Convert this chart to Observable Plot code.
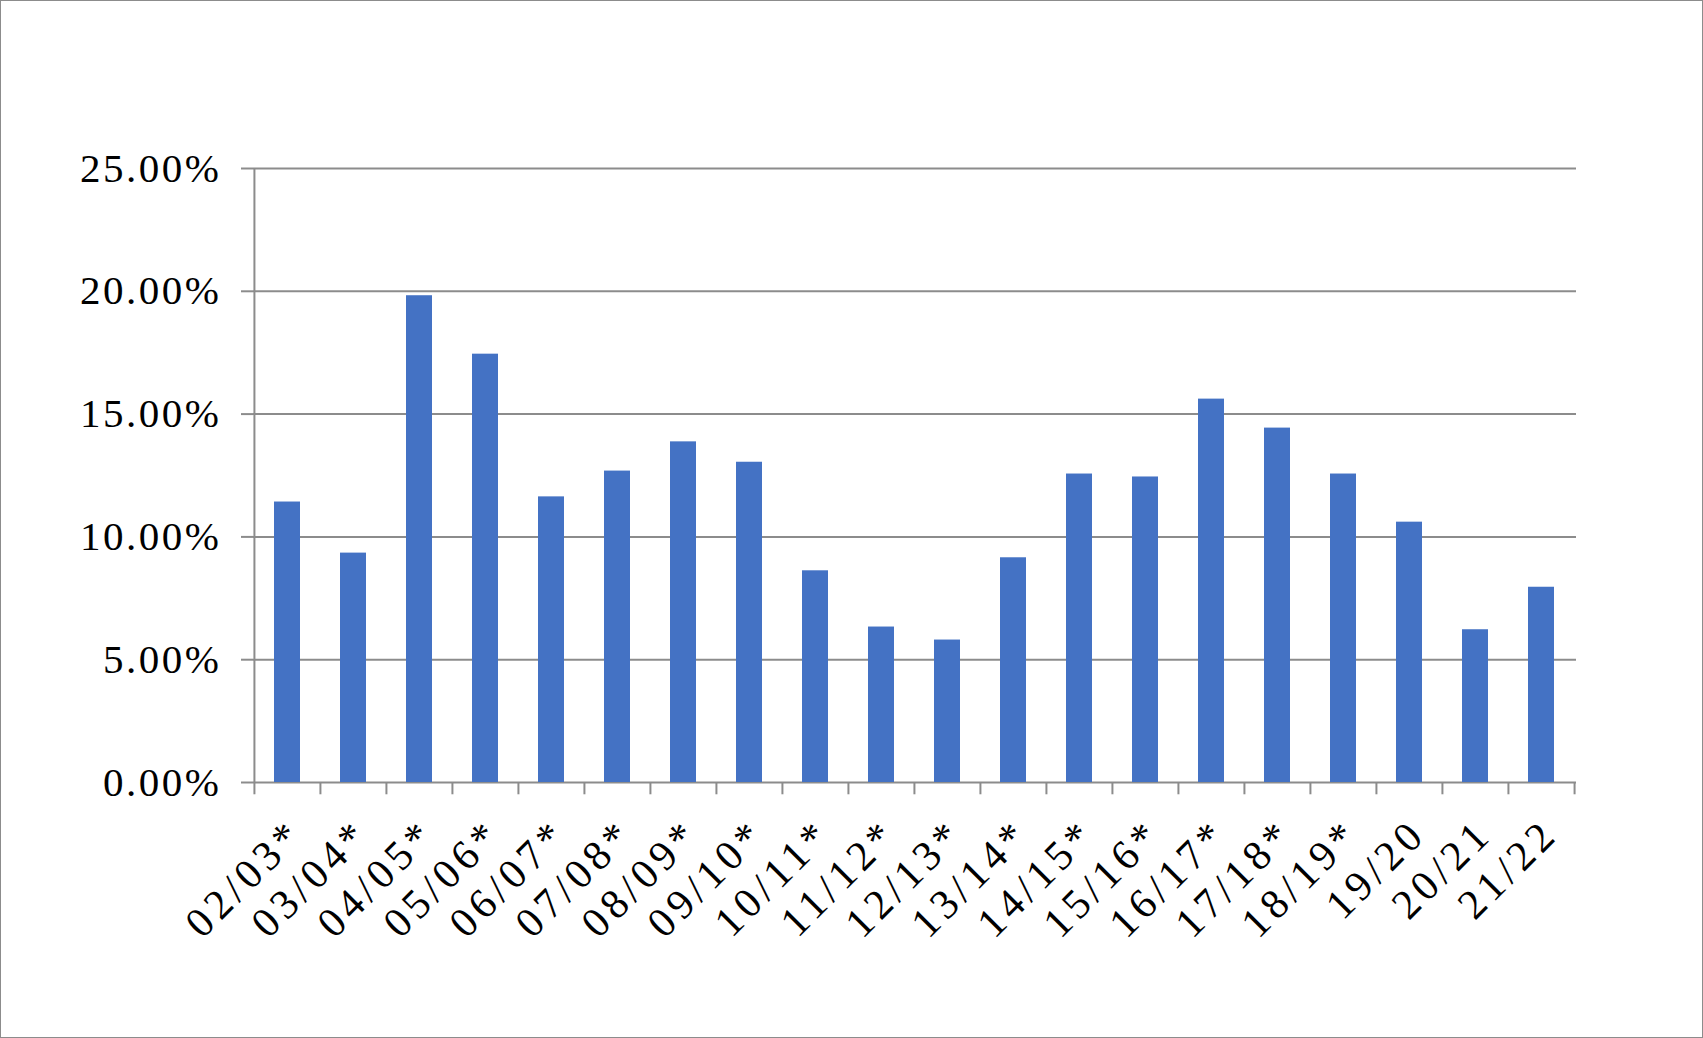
<!DOCTYPE html>
<html>
<head>
<meta charset="utf-8">
<script src="https://cdn.jsdelivr.net/npm/d3@7"></script>
<script src="https://cdn.jsdelivr.net/npm/@observablehq/plot@0.6"></script>
<style>
  html, body { margin: 0; padding: 0; background: #fff; }
  #chart { width: 1701px; height: 1036px; border: 1px solid #8c8c8c; overflow: hidden; }
  #chart svg { display: block; }
  .yax text { letter-spacing: 2.5px; }
  .xax text { letter-spacing: 5px; }
</style>
</head>
<body>
<div id="chart"></div>
<script>
const seasons = ["02/03*","03/04*","04/05*","05/06*","06/07*","07/08*","08/09*","09/10*","10/11*","11/12*",
                 "12/13*","13/14*","14/15*","15/16*","16/17*","17/18*","18/19*","19/20","20/21","21/22"];
const rates = [11.42, 9.34, 19.82, 17.44, 11.63, 12.68, 13.87, 13.04, 8.62, 6.33,
               5.80, 9.15, 12.56, 12.44, 15.61, 14.43, 12.56, 10.60, 6.22, 7.95];
const yTicks = [0, 5, 10, 15, 20, 25];

const data = seasons.map((s, i) => ({season: s, rate: rates[i]}));

const W = 1701, H = 1036;
const mL = 252, mR = 126, mT = 167, mB = 255;
const step = (W - mL - mR) / seasons.length;
const grey = "#8c8c8c";

const plot = Plot.plot({
  width: W,
  height: H,
  marginLeft: mL,
  marginRight: mR,
  marginTop: mT,
  marginBottom: mB,
  style: {fontFamily: "'Liberation Serif', 'DejaVu Serif', serif", fontSize: "41px", color: "#000", background: "#fff"},
  x: {domain: seasons, paddingInner: 0.6, paddingOuter: 0.3, label: null},
  y: {domain: [0, 25], label: null},
  marks: [
    Plot.ruleY(yTicks, {y: d => d, stroke: grey, strokeWidth: 2}),
    Plot.ruleX([seasons[0]], {x: d => d, y1: 0, y2: 25, stroke: grey, strokeWidth: 2, dx: -step / 2}),
    Plot.barY(data, {x: "season", y: "rate", fill: "#4472c4"}),
    Plot.ruleX(seasons, {x: d => d, y1: 0, y2: -0.5, stroke: grey, strokeWidth: 2, dx: -step / 2}),
    Plot.ruleX([seasons[seasons.length - 1]], {x: d => d, y1: 0, y2: -0.5, stroke: grey, strokeWidth: 2, dx: step / 2}),
    Plot.axisY({ticks: yTicks, tickSize: 12, tickPadding: 20, tickFormat: d => d.toFixed(2) + "%", stroke: grey, strokeWidth: 2, strokeOpacity: 1, fontSize: 41, className: "yax"}),
    Plot.axisX({tickSize: 0, tickRotate: -45, tickPadding: 44, dx: 9, fontSize: 42, className: "xax"})
  ]
});
document.getElementById("chart").appendChild(plot);
</script>
</body>
</html>
